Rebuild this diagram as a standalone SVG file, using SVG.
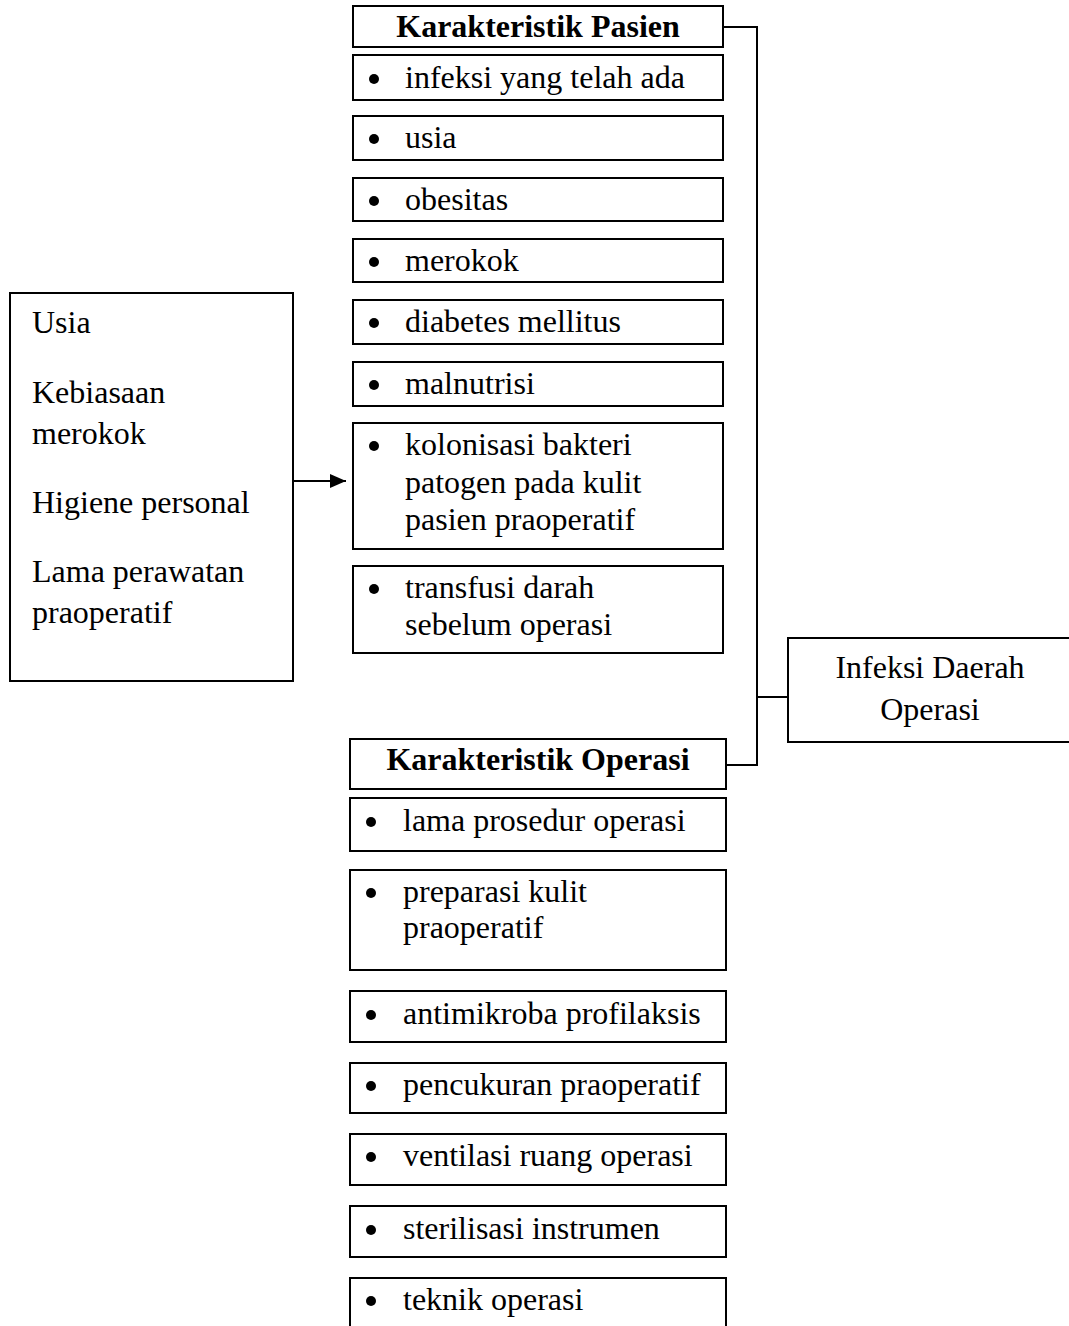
<svg xmlns="http://www.w3.org/2000/svg" width="1069" height="1326" viewBox="0 0 1069 1326">
<style>
.b{fill:#fff;stroke:#000;stroke-width:2}
.t{font-family:"Liberation Serif","Times New Roman",serif;font-size:32px;fill:#000}
.h{font-family:"Liberation Serif","Times New Roman",serif;font-size:32px;font-weight:bold;fill:#000;text-anchor:middle}
.c{text-anchor:middle}
.ln{stroke:#000;stroke-width:2;fill:none}
</style>
<defs>
<marker id="ah" viewBox="0 0 16 14" refX="16" refY="7" markerWidth="16" markerHeight="14" orient="auto" markerUnits="userSpaceOnUse"><path d="M0,0 L16,7 L0,14 z" fill="#000"/></marker>
</defs>
<rect width="1069" height="1326" fill="#fff"/>
<g id="connectors">
<path class="ln" d="M723,27 H757 V765 H726"/>
<path class="ln" d="M757,697 H788"/>
<path class="ln" d="M293,481 H346" marker-end="url(#ah)"/>
</g>
<g id="pasien-title"><rect class="b" x="353" y="6" width="370" height="41"/><text class="h" x="538" y="37">Karakteristik Pasien</text></g>
<g id="p1"><rect class="b" x="353" y="55" width="370" height="45"/><circle cx="374" cy="79" r="5"/><text class="t" x="405" y="88">infeksi yang telah ada</text></g>
<g id="p2"><rect class="b" x="353" y="116" width="370" height="44"/><circle cx="374" cy="139" r="5"/><text class="t" x="405" y="148">usia</text></g>
<g id="p3"><rect class="b" x="353" y="178" width="370" height="43"/><circle cx="374" cy="201" r="5"/><text class="t" x="405" y="210">obesitas</text></g>
<g id="p4"><rect class="b" x="353" y="239" width="370" height="43"/><circle cx="374" cy="262" r="5"/><text class="t" x="405" y="271">merokok</text></g>
<g id="p5"><rect class="b" x="353" y="300" width="370" height="44"/><circle cx="374" cy="323" r="5"/><text class="t" x="405" y="332">diabetes mellitus</text></g>
<g id="p6"><rect class="b" x="353" y="362" width="370" height="44"/><circle cx="374" cy="385" r="5"/><text class="t" x="405" y="394">malnutrisi</text></g>
<g id="p7"><rect class="b" x="353" y="423" width="370" height="126"/><circle cx="374" cy="446" r="5"/><text class="t" x="405" y="455">kolonisasi bakteri</text><text class="t" x="405" y="493">patogen pada kulit</text><text class="t" x="405" y="530">pasien praoperatif</text></g>
<g id="p8"><rect class="b" x="353" y="566" width="370" height="87"/><circle cx="374" cy="589" r="5"/><text class="t" x="405" y="598">transfusi darah</text><text class="t" x="405" y="635">sebelum operasi</text></g>
<g id="faktor"><rect class="b" x="10" y="293" width="283" height="388" stroke-width="1.5"/><text class="t" x="32" y="333">Usia</text><text class="t" x="32" y="403">Kebiasaan</text><text class="t" x="32" y="444">merokok</text><text class="t" x="32" y="513">Higiene personal</text><text class="t" x="32" y="582">Lama perawatan</text><text class="t" x="32" y="623">praoperatif</text></g>
<g id="ido"><rect class="b" x="788" y="638" width="290" height="104" stroke-width="1.5"/><text class="t c" x="930" y="678">Infeksi Daerah</text><text class="t c" x="930" y="720">Operasi</text></g>
<g id="operasi-title"><rect class="b" x="350" y="739" width="376" height="50"/><text class="h" x="538" y="770">Karakteristik Operasi</text></g>
<g id="o1"><rect class="b" x="350" y="798" width="376" height="53"/><circle cx="371" cy="822" r="5"/><text class="t" x="403" y="831">lama prosedur operasi</text></g>
<g id="o2"><rect class="b" x="350" y="870" width="376" height="100"/><circle cx="371" cy="893" r="5"/><text class="t" x="403" y="902">preparasi kulit</text><text class="t" x="403" y="938">praoperatif</text></g>
<g id="o3"><rect class="b" x="350" y="991" width="376" height="51"/><circle cx="371" cy="1015" r="5"/><text class="t" x="403" y="1024">antimikroba profilaksis</text></g>
<g id="o4"><rect class="b" x="350" y="1063" width="376" height="50"/><circle cx="371" cy="1086" r="5"/><text class="t" x="403" y="1095">pencukuran praoperatif</text></g>
<g id="o5"><rect class="b" x="350" y="1134" width="376" height="51"/><circle cx="371" cy="1157" r="5"/><text class="t" x="403" y="1166">ventilasi ruang operasi</text></g>
<g id="o6"><rect class="b" x="350" y="1206" width="376" height="51"/><circle cx="371" cy="1230" r="5"/><text class="t" x="403" y="1239">sterilisasi instrumen</text></g>
<g id="o7"><rect class="b" x="350" y="1278" width="376" height="60"/><circle cx="371" cy="1301" r="5"/><text class="t" x="403" y="1310">teknik operasi</text></g>
</svg>
